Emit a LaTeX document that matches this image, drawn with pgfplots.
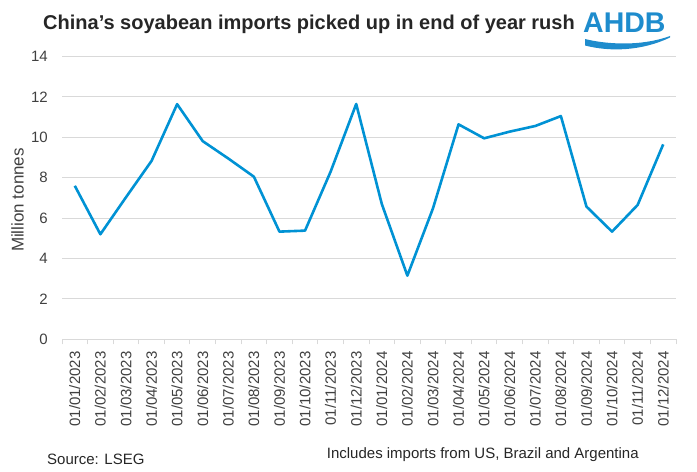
\documentclass[border=0pt]{standalone}
\usepackage{pgfplots}
\pgfplotsset{compat=1.18}
\usepackage{fontspec}
\setmainfont{Liberation Sans}
\definecolor{linecol}{RGB}{0,146,212}
\definecolor{logocol}{RGB}{30,140,205}
\definecolor{gridgray}{RGB}{217,217,217}
\definecolor{tickgray}{RGB}{64,64,64}
\definecolor{titlecol}{RGB}{38,38,38}
\begin{document}
\begin{tikzpicture}
\useasboundingbox (0,0) rectangle (697bp,472bp);
\begin{axis}[
  at={(62bp,132.7bp)}, anchor=south west,
  scale only axis, width=614bp, height=282.8bp,
  xmin=-0.5, xmax=23.5, ymin=0, ymax=14,
  ytick={0,2,...,14},
  xtick={0,...,23},
  xticklabels={01/01/2023,01/02/2023,01/03/2023,01/04/2023,01/05/2023,01/06/2023,01/07/2023,01/08/2023,01/09/2023,01/10/2023,01/11/2023,01/12/2023,01/01/2024,01/02/2024,01/03/2024,01/04/2024,01/05/2024,01/06/2024,01/07/2024,01/08/2024,01/09/2024,01/10/2024,01/11/2024,01/12/2024},
  minor xtick={-0.5,0.5,...,23.5},
  axis line style={draw=none},
  ymajorgrids,
  major grid style={draw=gridgray, line width=0.9bp},
  major tick length=0pt,
  minor tick length=5bp,
  tick align=outside,
  xtick pos=bottom, ytick pos=left,
  tick style={draw=gridgray, line width=0.9bp},
  /pgf/number format/assume math mode=true,
  tick label style={font=\fontsize{15bp}{18bp}\selectfont, text=tickgray, inner sep=0pt},
  xticklabel style={rotate=90, anchor=east},
  xticklabel shift=12bp,
  yticklabel shift=14bp,
]
\addplot[color=linecol, line width=2.6bp, line join=round] coordinates {
(0,7.6) (1,5.2) (2,7.03) (3,8.83) (4,11.64) (5,9.81) (6,8.95) (7,8.05)
(8,5.33) (9,5.38) (10,8.3) (11,11.65) (12,6.70) (13,3.15) (14,6.48) (15,10.64)
(16,9.95) (17,10.28) (18,10.56) (19,11.05) (20,6.57) (21,5.33) (22,6.65) (23,9.65)
};
\end{axis}
\node[anchor=base west, inner sep=0pt, text=titlecol, font=\bfseries\fontsize{20bp}{24bp}\selectfont] at (43bp,442bp) {China’s soyabean imports picked up in end of year rush};
\node[anchor=center, rotate=90, inner sep=0pt, text=tickgray, font=\fontsize{17bp}{20bp}\selectfont] at (17.5bp,272bp) {Million tonnes};
\node[anchor=base west, inner sep=0pt, text=titlecol, font=\fontsize{15bp}{18bp}\selectfont] at (47bp,8bp) {Source: LSEG};
\node[anchor=base west, inner sep=0pt, text=titlecol, font=\fontsize{15bp}{18bp}\selectfont] at (326.7bp,14bp) {Includes imports from US, Brazil and Argentina};
\node[anchor=base west, inner sep=0pt, text=logocol, font=\bfseries\fontsize{28.5bp}{34bp}\selectfont] at (583bp,439bp) {AHDB};
\fill[logocol] (585bp,433bp) .. controls (605bp,428bp) and (640bp,425bp) .. (670bp,436bp)
  -- (670bp,434.5bp) .. controls (642bp,421bp) and (610bp,420bp) .. (585bp,426.5bp) -- cycle;
\end{tikzpicture}
\end{document}
